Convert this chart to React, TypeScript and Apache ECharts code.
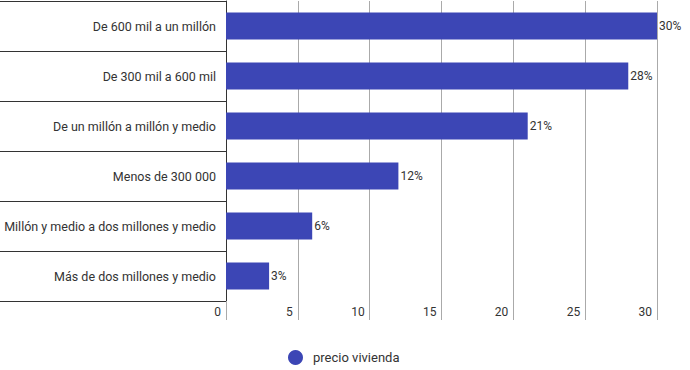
import React, { useEffect, useRef } from "react";
import * as echarts from "echarts";

const categories = [
  "De 600 mil a un millón",
  "De 300 mil a 600 mil",
  "De un millón a millón y medio",
  "Menos de 300 000",
  "Millón y medio a dos millones y medio",
  "Más de dos millones y medio",
];
const values = [30, 28, 21, 12, 6, 3];
const seriesName = "precio vivienda";

export default function App() {
  const ref = useRef<HTMLDivElement>(null);
  useEffect(() => {
    document.body.style.margin = "0";
    const chart = echarts.init(ref.current!, null, { renderer: "svg" });
    const font = "Roboto, sans-serif";
    chart.setOption({
      animation: false,
      textStyle: { fontFamily: font },
      grid: { left: 226, right: 33, top: 1, bottom: 69, containLabel: false },
      legend: {
        top: 345,
        left: 283,
        icon: "circle",
        itemWidth: 25,
        itemHeight: 15,
        itemGap: 10,
        textStyle: { color: "#333", fontSize: 13, fontFamily: font },
        data: [seriesName],
      },
      xAxis: {
        type: "value",
        min: 0,
        max: 30,
        interval: 5,
        axisLine: { show: false },
        axisTick: { show: true, length: 19, lineStyle: { color: "#aaa" } },
        splitLine: { show: true, lineStyle: { color: "#aaa" } },
        axisLabel: {
          align: "right",
          margin: 5,
          padding: [0, 5, 0, 0],
          color: "#333",
          fontSize: 12,
          fontFamily: font,
        },
      },
      yAxis: {
        type: "category",
        inverse: true,
        data: categories,
        axisLine: { show: true, lineStyle: { color: "#333" } },
        axisTick: { show: true, length: 226, lineStyle: { color: "#333" } },
        axisLabel: { margin: 10, color: "#333", fontSize: 12.5, fontFamily: font },
      },
      series: [
        {
          name: seriesName,
          type: "bar",
          data: values,
          barWidth: 27,
          itemStyle: { color: "#3c46b5" },
          label: {
            show: true,
            position: "right",
            distance: 2,
            formatter: "{c}%",
            color: "#333",
            fontSize: 12,
            fontFamily: font,
          },
        },
      ],
    });
    return () => chart.dispose();
  }, []);
  return <div ref={ref} style={{ width: 690, height: 370 }} />;
}
